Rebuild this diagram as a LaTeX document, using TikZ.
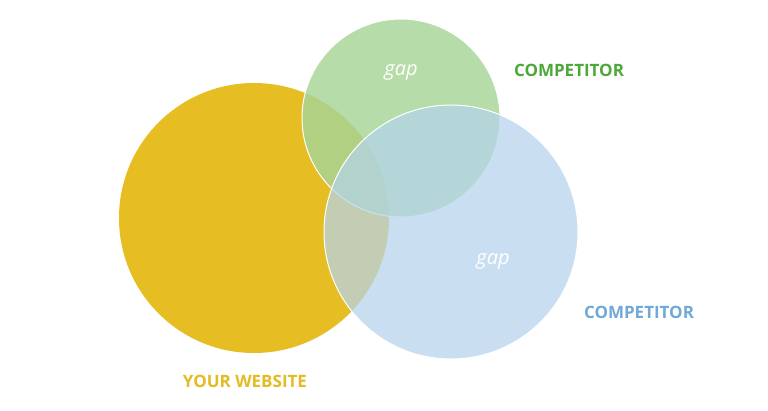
\documentclass[tikz,border=0pt]{standalone}
\usepackage{fontspec}
\setmainfont{Open Sans}
\definecolor{yel}{HTML}{E6BD22}
\definecolor{grn}{HTML}{A6D597}
\definecolor{blu}{HTML}{B5D4EC}
\definecolor{grnT}{HTML}{4DA83A}
\definecolor{bluT}{HTML}{70A9D8}
\definecolor{yelT}{HTML}{E3BB22}
\tikzset{circ/.style={draw=white,line width=1pt},
  gaplbl/.style={text=white,font=\itshape\fontsize{20}{24}\selectfont},
  captxt/.style={font=\bfseries\fontsize{17}{20}\selectfont}}
\begin{document}
\begin{tikzpicture}[x=1pt,y=-1pt]
\useasboundingbox (0,0) rectangle (768,410);
\fill[white] (0,0) rectangle (768,410);
\fill[yel] (254,218) circle (135);
\path[circ,fill=grn,fill opacity=0.82] (401,118) circle (99);
\path[circ,fill=blu,fill opacity=0.72] (451,232) circle (127);
\node[gaplbl] (g1) at (401,72) {gap};
\node[gaplbl] (g2) at (493,261) {gap};
\node[captxt,text=grnT] (c1) at (569,70) {COMPETITOR};
\node[captxt,text=bluT] (c2) at (639,312) {COMPETITOR};
\node[captxt,text=yelT] (y) at (245,381) {YOUR WEBSITE};
\end{tikzpicture}
\end{document}
